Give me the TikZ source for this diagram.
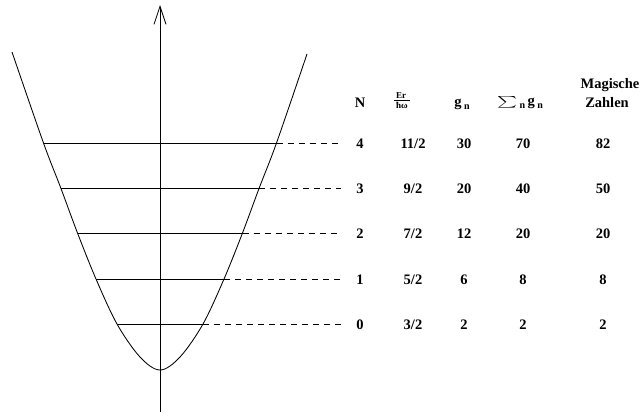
\documentclass[tikz,border=0pt]{standalone}
\usepackage{graphicx}
\usepackage{fontspec}
\setmainfont{Liberation Serif}
\usetikzlibrary{arrows.meta}
\tikzset{
  curve/.style={line width=0.85pt},
  level/.style={line width=0.85pt},
  guide/.style={line width=0.8pt, dash pattern=on 6pt off 5pt},
  lbl/.style={font=\fontsize{14.5}{16}\selectfont\bfseries, inner sep=0pt, anchor=center},
  small/.style={font=\fontsize{9}{10}\selectfont\bfseries, inner sep=0pt},
}
\newcommand{\subn}{\raisebox{-3pt}{\fontsize{10}{10}\selectfont n}}
\begin{document}
\begin{tikzpicture}[x=1pt,y=-1pt]
\useasboundingbox (0,0) rectangle (642,416);
% axis
\coordinate (axb) at (160,412);
\coordinate (axt) at (160,5);
\draw[line width=0.85pt, -{Straight Barb[length=18pt,width=12pt,line width=0.85pt]}] (axb) -- (axt);
% potential curve
\draw[curve] plot[smooth, tension=0.55] coordinates {(12,52) (43.5,143) (60.8,188) (77.5,233) (96,279) (117,324) (140,357) (160,370) (180,357) (203,324) (224,279) (242.5,233) (259.2,188) (276.5,143) (307,54)};
% level ends
\foreach \n/\y/\l/\r in {4/143/43.5/276.5, 3/188/60.8/259.2, 2/233/77.5/242.5, 1/279/96/224, 0/324/117/203}{
  \coordinate (L\n) at (\l,\y);
  \coordinate (R\n) at (\r,\y);
  \coordinate (D\n) at (341,\y);
  \draw[level] (L\n) -- (R\n);
  \draw[guide] (R\n) -- (D\n);
}
% header
\node[lbl] (hN) at (360,103) {N};
\node[small] (hEr) at (401,96) {Er};
\coordinate (barl) at (394,100);
\coordinate (barr) at (410,100);
\draw[line width=0.7pt] (barl) -- (barr);
\node[small] (hhw) at (402,105.5) {ħω};
\node[lbl] (hg) at (462,104) {g\,\subn};
\node[lbl] (hs) at (520,103) {\raisebox{-1pt}{\resizebox{20pt}{10pt}{$\sum$}}\,\subn\,g\,\subn};
\node[lbl] (hM) at (610,85) {Magische};
\node[lbl] (hZ) at (607,103) {Zahlen};
% rows
\foreach \n/\y/\e/\g/\s/\m in {4/144/11\slash 2/30/70/82, 3/189/9\slash 2/20/40/50, 2/234/7\slash 2/12/20/20, 1/280/5\slash 2/6/8/8, 0/325/3\slash 2/2/2/2}{
  \node[lbl] (n\n) at (360,\y) {\n};
  \node[lbl] (e\n) at (413,\y) {\e};
  \node[lbl] (g\n) at (464,\y) {\g};
  \node[lbl] (s\n) at (523,\y) {\s};
  \node[lbl] (m\n) at (603,\y) {\m};
}
\end{tikzpicture}
\end{document}
